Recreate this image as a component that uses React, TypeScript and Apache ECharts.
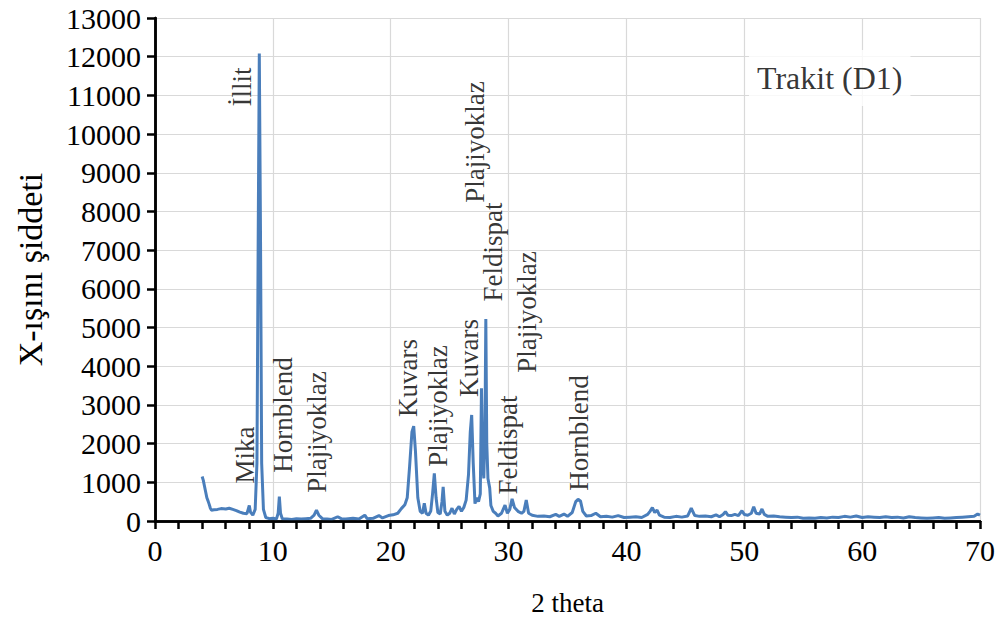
import React, { useEffect, useRef } from "react";
import * as echarts from "echarts";

const theta: number[] = [
  4.0, 4.1, 4.2, 4.3, 4.4, 4.5, 4.6, 4.7, 4.8, 5.0, 5.3, 5.6, 6.0, 6.3, 6.6, 6.9, 7.2, 7.5, 7.8, 8.0,
  8.1, 8.3, 8.5, 8.65, 8.75, 8.85, 8.95, 9.05, 9.2, 9.4, 9.7, 10.0, 10.3, 10.45, 10.55, 10.65, 10.8, 11.2, 11.6, 12.0,
  12.4, 12.8, 13.2, 13.5, 13.7, 13.9, 14.2, 14.6, 15.0, 15.5, 15.8, 16.2, 16.8, 17.3, 17.8, 18.0, 18.5, 19.0, 19.3, 19.8,
  20.2, 20.6, 20.9, 21.2, 21.4, 21.6, 21.8, 21.95, 22.1, 22.3, 22.5, 22.7, 22.85, 23.0, 23.2, 23.4, 23.55, 23.7, 23.85, 24.0,
  24.2, 24.35, 24.45, 24.6, 24.8, 25.0, 25.2, 25.4, 25.6, 25.8, 26.0, 26.2, 26.4, 26.6, 26.75, 26.87, 27.0, 27.15, 27.3, 27.45,
  27.6, 27.7, 27.8, 27.9, 28.0, 28.07, 28.15, 28.25, 28.4, 28.5, 28.7, 28.9, 29.1, 29.4, 29.7, 29.9, 30.1, 30.3, 30.5, 30.8,
  31.1, 31.3, 31.5, 31.7, 32.0, 32.5, 33.0, 33.5, 34.0, 34.3, 34.7, 35.0, 35.4, 35.7, 35.9, 36.1, 36.3, 36.6, 37.0, 37.4,
  37.8, 38.3, 38.8, 39.3, 39.8, 40.3, 40.8, 41.3, 41.8, 42.0, 42.2, 42.4, 42.6, 42.8, 43.2, 43.7, 44.2, 44.7, 45.2, 45.5,
  45.8, 46.2, 46.7, 47.2, 47.6, 47.9, 48.2, 48.4, 48.6, 48.9, 49.2, 49.5, 49.8, 50.0, 50.3, 50.6, 50.8, 51.0, 51.3, 51.5,
  51.7, 52.0, 52.5, 53.0, 53.5, 54.0, 54.5, 55.0, 55.5, 56.0, 56.5, 57.0, 57.5, 58.0, 58.5, 59.0, 59.5, 60.0, 60.5, 61.0,
  61.5, 62.0, 62.5, 63.0, 63.5, 64.0, 64.5, 65.0, 65.5, 66.0, 66.5, 67.0, 67.5, 68.0, 68.5, 69.0, 69.5, 69.8, 70.0,
];

const intensity: number[] = [
  1150, 1050, 900, 750, 600, 520, 430, 330, 280, 290, 300, 320, 310, 330, 300, 270, 230, 200, 190, 400,
  230, 150, 300, 1500, 7000, 12080, 7500, 1500, 300, 90, 60, 70, 50, 200, 630, 200, 60, 50, 40, 60,
  50, 60, 70, 150, 280, 150, 60, 50, 40, 110, 60, 50, 70, 50, 150, 60, 70, 140, 80, 140,
  160, 200, 320, 420, 600, 1400, 2300, 2450, 1800, 600, 250, 200, 460, 200, 150, 260, 700, 1230, 600, 220,
  180, 500, 880, 250, 150, 200, 330, 180, 300, 380, 250, 350, 540, 1200, 2300, 2740, 1500, 450, 600, 500,
  700, 3430, 1500, 1100, 2500, 5220, 2000, 1100, 850, 400, 250, 200, 130, 200, 410, 200, 300, 570, 350, 250,
  200, 250, 540, 200, 150, 120, 130, 110, 170, 120, 180, 120, 220, 500, 560, 520, 250, 130, 140, 200,
  110, 120, 100, 140, 90, 100, 110, 90, 170, 250, 345, 220, 280, 150, 100, 90, 120, 100, 130, 330,
  140, 120, 130, 110, 160, 110, 170, 240, 150, 140, 170, 140, 265, 170, 150, 200, 370, 200, 180, 310,
  170, 120, 130, 110, 100, 90, 100, 70, 80, 70, 90, 80, 100, 90, 120, 100, 130, 90, 110, 100,
  90, 110, 90, 100, 80, 110, 90, 80, 70, 80, 90, 70, 80, 90, 100, 110, 120, 180, 150,
];

const yTicks: number[] = [0, 1000, 2000, 3000, 4000, 5000, 6000, 7000, 8000, 9000, 10000, 11000, 12000, 13000];
const xTicks: number[] = [0, 10, 20, 30, 40, 50, 60, 70];

const annotationNames: string[] = [
  "İllit", "Mika", "Hornblend", "Plajiyoklaz", "Kuvars", "Plajiyoklaz", "Kuvars",
  "Plajiyoklaz", "Feldispat", "Plajiyoklaz", "Feldispat", "Hornblend",
];
const annotationTheta: number[] = [7.38, 7.64, 10.86, 13.74, 21.47, 24.01, 26.64, 27.15, 28.68, 31.56, 29.95, 35.97];
const annotationY: number[] = [11219, 1706, 2740, 2300, 3697, 2973, 4214, 9797, 6954, 5403, 1965, 2275];

const sampleName = "Trakit (D1)";
const sampleTheta = 57.25;
const sampleY = 11447;

const xTitle = "2 theta";
const yTitle = "X-ışını şiddeti";

const FONT = "'Liberation Serif', 'Times New Roman', serif";

export default function App() {
  const ref = useRef<HTMLDivElement>(null);
  useEffect(() => {
    if (!ref.current) return;
    const chart = echarts.init(ref.current, undefined, { renderer: "svg" });
    const lineData = theta.map((t, i) => [t, intensity[i]]);
    const annData = annotationNames.map((n, i) => ({ value: [annotationTheta[i], annotationY[i]], name: n }));
    const xMin = xTicks[0];
    const xMax = xTicks[xTicks.length - 1];
    const yMin = yTicks[0];
    const yMax = yTicks[yTicks.length - 1];
    chart.setOption({
      animation: false,
      backgroundColor: "#ffffff",
      grid: {
        left: 155,
        right: 21,
        top: 18,
        bottom: 102,
        containLabel: false,
      },
      xAxis: [
        {
          type: "value",
          min: xMin,
          max: xMax,
          interval: 10,
          name: xTitle,
          nameLocation: "middle",
          nameGap: 68,
          nameTextStyle: { fontFamily: FONT, fontSize: 27, color: "#000" },
          axisLine: { show: true, lineStyle: { color: "#000", width: 2.5 } },
          axisTick: { show: true, inside: false, length: 8, lineStyle: { color: "#000", width: 2.5 } },
          minorTick: { show: true, splitNumber: 5, length: 8, lineStyle: { color: "#000", width: 2.5 } },
          axisLabel: { fontFamily: FONT, fontSize: 30, color: "#000", margin: 14 },
          splitLine: { show: true, lineStyle: { color: "#d9d9d9", width: 1.2 } },
          z: 2,
        },
        {
          type: "value",
          position: "top",
          min: xMin,
          max: xMax,
          interval: 10,
          axisLine: { show: true, lineStyle: { color: "#000", width: 2.5 } },
          axisTick: { show: false },
          axisLabel: { show: false },
          splitLine: { show: false },
          z: 6,
        },
      ],
      yAxis: [
        {
          type: "value",
          min: yMin,
          max: yMax,
          interval: 1000,
          name: yTitle,
          nameLocation: "middle",
          nameGap: 108,
          nameTextStyle: { fontFamily: FONT, fontSize: 34, color: "#000" },
          axisLine: { show: true, lineStyle: { color: "#000", width: 2.5 } },
          axisTick: { show: true, inside: false, length: 8, lineStyle: { color: "#000", width: 2.5 } },
          axisLabel: {
            fontFamily: FONT,
            fontSize: 30,
            color: "#000",
            margin: 14,
            formatter: (v: number) => String(v),
          },
          splitLine: { show: true, lineStyle: { color: "#d9d9d9", width: 1.2 } },
          z: 2,
        },
        {
          type: "value",
          position: "right",
          min: yMin,
          max: yMax,
          interval: 1000,
          axisLine: { show: true, lineStyle: { color: "#000", width: 2.5 } },
          axisTick: { show: false },
          axisLabel: { show: false },
          splitLine: { show: false },
          z: 6,
        },
      ],
      series: [
        {
          type: "line",
          data: lineData,
          showSymbol: false,
          symbol: "none",
          lineStyle: { color: "#4a7ebb", width: 3 },
          z: 3,
        },
        {
          type: "scatter",
          data: annData,
          symbolSize: 0,
          z: 4,
          label: {
            show: true,
            position: "inside",
            rotate: 90,
            formatter: (p: any) => p.name,
            fontFamily: FONT,
            fontSize: 27,
            color: "#000",
          },
        },
        {
          type: "scatter",
          data: [{ value: [sampleTheta, sampleY], name: sampleName }],
          symbolSize: 0,
          z: 5,
          label: {
            show: true,
            position: "inside",
            formatter: (p: any) => p.name,
            fontFamily: FONT,
            fontSize: 32,
            color: "#000",
            backgroundColor: "#fff",
            padding: [12, 8],
          },
        },
      ],
    });
    return () => chart.dispose();
  }, []);
  return <div ref={ref} style={{ position: "fixed", left: 0, top: 0, width: 1001, height: 623 }} />;
}
